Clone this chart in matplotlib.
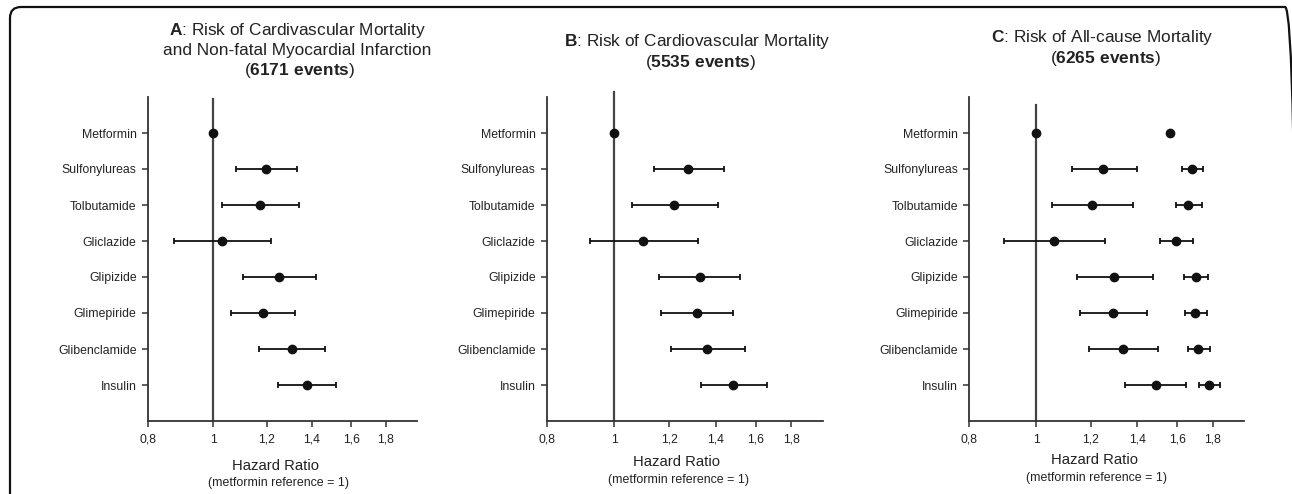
import numpy as np
import matplotlib
matplotlib.use("Agg")
import matplotlib.pyplot as plt
from matplotlib.patches import FancyBboxPatch
from matplotlib.transforms import IdentityTransform
from matplotlib.ticker import NullLocator, FixedLocator, FixedFormatter

plt.rcParams['font.family'] = ['Liberation Sans', 'DejaVu Sans']
plt.rcParams['mathtext.fontset'] = 'custom'
plt.rcParams['mathtext.rm'] = 'Liberation Sans'
plt.rcParams['mathtext.bf'] = 'Liberation Sans:bold'

drugs = ["Metformin", "Sulfonylureas", "Tolbutamide", "Gliclazide",
         "Glipizide", "Glimepiride", "Glibenclamide", "Insulin"]

# Panel A: CV mortality + non-fatal MI
A_hr = [1.00, 1.198, 1.174, 1.032, 1.251, 1.183, 1.308, 1.377]
A_lo = [np.nan, 1.082, 1.031, 0.876, 1.107, 1.063, 1.169, 1.248]
A_hi = [np.nan, 1.331, 1.341, 1.219, 1.418, 1.323, 1.461, 1.520]

# Panel B: CV mortality
B_hr = [1.00, 1.277, 1.221, 1.102, 1.328, 1.316, 1.362, 1.485]
B_lo = [np.nan, 1.140, 1.060, 0.923, 1.161, 1.169, 1.207, 1.335]
B_hi = [np.nan, 1.439, 1.410, 1.319, 1.520, 1.483, 1.543, 1.661]

# Panel C: all-cause mortality
C_hr = [1.00, 1.249, 1.205, 1.061, 1.297, 1.292, 1.336, 1.490]
C_lo = [np.nan, 1.129, 1.054, 0.898, 1.146, 1.158, 1.191, 1.343]
C_hi = [np.nan, 1.398, 1.379, 1.260, 1.475, 1.446, 1.500, 1.648]
# Panel C: second series
C2_hr = [1.561, 1.679, 1.660, 1.594, 1.702, 1.700, 1.717, 1.779]
C2_lo = [np.nan, 1.628, 1.592, 1.513, 1.635, 1.642, 1.657, 1.720]
C2_hi = [np.nan, 1.743, 1.735, 1.686, 1.774, 1.764, 1.786, 1.843]

xticks = [0.8, 1.0, 1.2, 1.4, 1.6, 1.8]
xticklabels = ["0,8", "1", "1,2", "1,4", "1,6", "1,8"]

W, H = 1292, 494
fig = plt.figure(figsize=(W / 100, H / 100), dpi=100)

TXT = '#222222'
SP = '#333333'

def fy(py):
    return 1 - py / H

def fx(px):
    return px / W

axes_px = [(147.7, 416.7), (546.7, 823.3), (969.0, 1244.3)]
ref_top = [99, 92, 105]
top_px, bot_px = 97.0, 421.0

def draw_series(ax, hr, lo, hi):
    y = np.arange(len(hr))
    hr = np.asarray(hr, float); lo = np.asarray(lo, float); hi = np.asarray(hi, float)
    m = np.isfinite(lo)
    ax.errorbar(hr[m], y[m], xerr=[hr[m] - lo[m], hi[m] - hr[m]], fmt='none',
                ecolor='#111111', elinewidth=1.3, capsize=2.5, capthick=1.3, zorder=3)
    ax.plot(hr, y, 'o', color='#111111', markersize=6, zorder=4)

series = [[(A_hr, A_lo, A_hi)], [(B_hr, B_lo, B_hi)],
          [(C_hr, C_lo, C_hi), (C2_hr, C2_lo, C2_hi)]]

for i, (l, r) in enumerate(axes_px):
    ax = fig.add_axes([fx(l), fy(bot_px), (r - l) / W, (bot_px - top_px) / H])
    ax.set_xscale('log')
    ax.set_xlim(0.8, 2.0)
    ax.set_ylim(len(drugs), -1)
    ax.xaxis.set_major_locator(FixedLocator(xticks))
    ax.xaxis.set_major_formatter(FixedFormatter(xticklabels))
    ax.xaxis.set_minor_locator(NullLocator())
    ax.set_yticks(np.arange(len(drugs)))
    ax.set_yticklabels(drugs)
    for s in ['top', 'right']:
        ax.spines[s].set_visible(False)
    for s in ['left', 'bottom']:
        ax.spines[s].set_color(SP)
        ax.spines[s].set_linewidth(1.3)
    ax.tick_params(axis='both', colors=SP, labelcolor=TXT, labelsize=8.8,
                   length=4, width=1.1, direction='out')
    ax.tick_params(axis='y', pad=4)
    ax.tick_params(axis='x', pad=5)
    ymax = (bot_px - ref_top[i]) / (bot_px - top_px)
    ax.axvline(1.0, ymin=0, ymax=ymax, color='#444444', lw=1.6, zorder=2, clip_on=False)
    for s in series[i]:
        draw_series(ax, *s)

# Titles
tfs = 12.4
fig.text(fx(297.5), fy(31), r"$\mathbf{A}$: Risk of Cardivascular Mortality",
         ha='center', va='center', fontsize=tfs, color=TXT)
fig.text(fx(297.0), fy(51), "and Non-fatal Myocardial Infarction",
         ha='center', va='center', fontsize=tfs, color=TXT)
fig.text(fx(299.7), fy(71), r"($\mathbf{6171\ events}$)",
         ha='center', va='center', fontsize=tfs, color=TXT)

fig.text(fx(697.8), fy(41.7), r"$\mathbf{B}$: Risk of Cardiovascular Mortality",
         ha='center', va='center', fontsize=tfs, color=TXT)
fig.text(fx(700.5), fy(62.3), r"($\mathbf{5535\ events}$)",
         ha='center', va='center', fontsize=tfs, color=TXT)

fig.text(fx(1102.7), fy(37.7), r"$\mathbf{C}$: Risk of All-cause Mortality",
         ha='center', va='center', fontsize=tfs, color=TXT)
fig.text(fx(1105.3), fy(58.3), r"($\mathbf{6265\ events}$)",
         ha='center', va='center', fontsize=tfs, color=TXT)

# X labels
xl = [(275.7, 465.7, 278.0, 483.3), (676.7, 462.3, 678.8, 480.0), (1094.5, 460.0, 1097.0, 477.7)]
for x1, y1, x2, y2 in xl:
    fig.text(fx(x1), fy(y1), "Hazard Ratio", ha='center', va='center',
             fontsize=10.7, color=TXT)
    fig.text(fx(x2), fy(y2), "(metformin reference = 1)", ha='center', va='center',
             fontsize=8.9, color=TXT)

# Rounded border
border = FancyBboxPatch((10, -30), 1286, (H - 7) + 30,
                        boxstyle="round,pad=0,rounding_size=11",
                        transform=IdentityTransform(), fill=False,
                        edgecolor='#111111', linewidth=1.6)
fig.add_artist(border)

fig.savefig("out.png", dpi=100)
